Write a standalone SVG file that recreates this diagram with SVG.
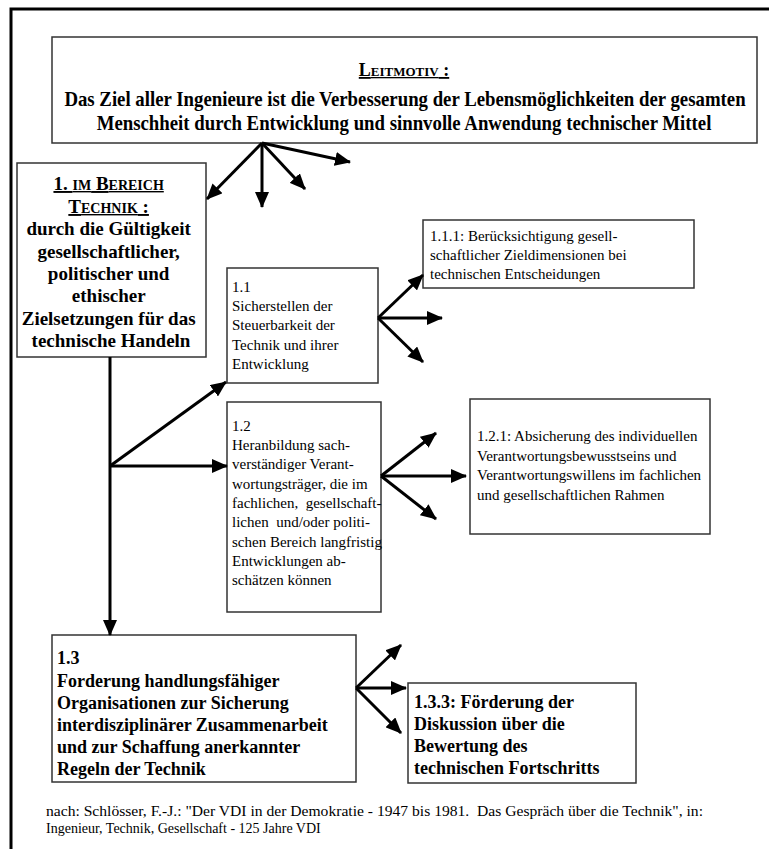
<svg xmlns="http://www.w3.org/2000/svg" width="769" height="849" viewBox="0 0 769 849">
<defs>
<marker id="ah" viewBox="0 0 16 14" markerWidth="16" markerHeight="14" refX="15" refY="7" markerUnits="userSpaceOnUse" orient="auto">
<path d="M0,0 L16,7 L0,14 Z" fill="#000"/>
</marker>
<style>
.box{fill:#fff;stroke:#333;stroke-width:1.5}
.b{font-family:"Liberation Serif","Times New Roman",serif;font-weight:bold;fill:#000}
.r{font-family:"Liberation Serif","Times New Roman",serif;fill:#000}
.c{stroke:#000;stroke-width:3;fill:none;marker-end:url(#ah)}
</style>
</defs>
<rect width="769" height="849" fill="#fff"/>
<g id="frame">
<path d="M11,849 L11,9 L769,9" fill="none" stroke="#000" stroke-width="3"/>
</g>
<g id="leitmotiv">
<rect class="box" x="52" y="37" width="705" height="106"/>
<text class="b" x="404" y="76" font-size="18" text-anchor="middle" text-decoration="underline">L<tspan font-size="13">EITMOTIV</tspan> :</text>
<text class="b" transform="translate(405,106) scale(1,1.06)" x="0" y="0" font-size="18.8" text-anchor="middle">Das Ziel aller Ingenieure ist die Verbesserung der Lebensmöglichkeiten der gesamten</text>
<text class="b" transform="translate(404,130) scale(1,1.06)" x="0" y="0" font-size="18.8" text-anchor="middle">Menschheit durch Entwicklung und sinnvolle Anwendung technischer Mittel</text>
</g>
<g id="n1">
<rect class="box" x="17" y="163" width="189" height="194"/>
<text class="b" font-size="19" text-anchor="middle">
<tspan x="111" y="190" text-decoration="underline">1. <tspan font-size="14">IM</tspan> B<tspan font-size="14">EREICH</tspan></tspan>
<tspan x="111" y="213" text-decoration="underline">T<tspan font-size="14">ECHNIK</tspan> :</tspan>
<tspan x="111" y="235">durch die Gültigkeit</tspan>
<tspan x="111" y="258">gesellschaftlicher,</tspan>
<tspan x="111" y="280">politischer und</tspan>
<tspan x="111" y="302">ethischer</tspan>
<tspan x="111" y="325">Zielsetzungen für das</tspan>
<tspan x="111" y="347">technische Handeln</tspan>
</text>
</g>
<g id="n1_1">
<rect class="box" x="227" y="268" width="151" height="115"/>
<text class="r" font-size="15">
<tspan x="232" y="292">1.1</tspan>
<tspan x="232" y="311">Sicherstellen der</tspan>
<tspan x="232" y="330">Steuerbarkeit der</tspan>
<tspan x="232" y="350">Technik und ihrer</tspan>
<tspan x="232" y="369">Entwicklung</tspan>
</text>
</g>
<g id="n1_1_1">
<rect class="box" x="423" y="220" width="271" height="68"/>
<text class="r" font-size="15">
<tspan x="430" y="241">1.1.1: Berücksichtigung gesell-</tspan>
<tspan x="430" y="260">schaftlicher Zieldimensionen bei</tspan>
<tspan x="430" y="279">technischen Entscheidungen</tspan>
</text>
</g>
<g id="n1_2">
<rect class="box" x="227" y="402" width="154" height="210"/>
<text class="r" font-size="15">
<tspan x="232" y="431">1.2</tspan>
<tspan x="232" y="450">Heranbildung sach-</tspan>
<tspan x="232" y="469">verständiger Verant-</tspan>
<tspan x="232" y="489">wortungsträger, die im</tspan>
<tspan x="232" y="508" xml:space="preserve">fachlichen,  gesellschaft-</tspan>
<tspan x="232" y="527" xml:space="preserve">lichen  und/oder politi-</tspan>
<tspan x="232" y="547">schen Bereich langfristig</tspan>
<tspan x="232" y="566">Entwicklungen ab-</tspan>
<tspan x="232" y="585">schätzen können</tspan>
</text>
</g>
<g id="n1_2_1">
<rect class="box" x="470" y="399" width="240" height="135"/>
<text class="r" font-size="15">
<tspan x="477" y="441">1.2.1: Absicherung des individuellen</tspan>
<tspan x="477" y="461">Verantwortungsbewusstseins und</tspan>
<tspan x="477" y="480">Verantwortungswillens im fachlichen</tspan>
<tspan x="477" y="500">und gesellschaftlichen Rahmen</tspan>
</text>
</g>
<g id="n1_3">
<rect class="box" x="52" y="635" width="304" height="147"/>
<text class="b" font-size="18">
<tspan x="57" y="664">1.3</tspan>
<tspan x="57" y="687">Forderung handlungsfähiger</tspan>
<tspan x="57" y="709">Organisationen zur Sicherung</tspan>
<tspan x="57" y="731">interdisziplinärer Zusammenarbeit</tspan>
<tspan x="57" y="753">und zur Schaffung anerkannter</tspan>
<tspan x="57" y="775">Regeln der Technik</tspan>
</text>
</g>
<g id="n1_3_3">
<rect class="box" x="408" y="683" width="228" height="100"/>
<text class="b" font-size="18">
<tspan x="414" y="708">1.3.3: Förderung der</tspan>
<tspan x="414" y="730">Diskussion über die</tspan>
<tspan x="414" y="752">Bewertung des</tspan>
<tspan x="414" y="774">technischen Fortschritts</tspan>
</text>
</g>
<g id="connectors">
<line class="c" x1="262" y1="143" x2="207" y2="199"/>
<line class="c" x1="262" y1="143" x2="262" y2="207"/>
<line class="c" x1="262" y1="143" x2="305" y2="189"/>
<line class="c" x1="262" y1="143" x2="350" y2="162"/>
<line class="c" x1="110" y1="357" x2="110" y2="635"/>
<line class="c" x1="110" y1="466" x2="226" y2="382"/>
<line class="c" x1="110" y1="466" x2="227" y2="466"/>
<line class="c" x1="378" y1="318" x2="423" y2="275"/>
<line class="c" x1="378" y1="318" x2="442" y2="318"/>
<line class="c" x1="378" y1="318" x2="423" y2="362"/>
<line class="c" x1="381" y1="476" x2="436" y2="433"/>
<line class="c" x1="381" y1="476" x2="466" y2="476"/>
<line class="c" x1="381" y1="476" x2="436" y2="519"/>
<line class="c" x1="356" y1="688" x2="401" y2="645"/>
<line class="c" x1="356" y1="688" x2="406" y2="688"/>
<line class="c" x1="356" y1="688" x2="401" y2="733"/>
</g>
<g id="footnote">
<text class="r" font-size="14" x="46" y="816" textLength="657" lengthAdjust="spacingAndGlyphs" xml:space="preserve">nach: Schlösser, F.-J.: "Der VDI in der Demokratie - 1947 bis 1981.  Das Gespräch über die Technik", in:</text>
<text class="r" font-size="14" x="46" y="833">Ingenieur, Technik, Gesellschaft - 125 Jahre VDI</text>
</g>
</svg>
